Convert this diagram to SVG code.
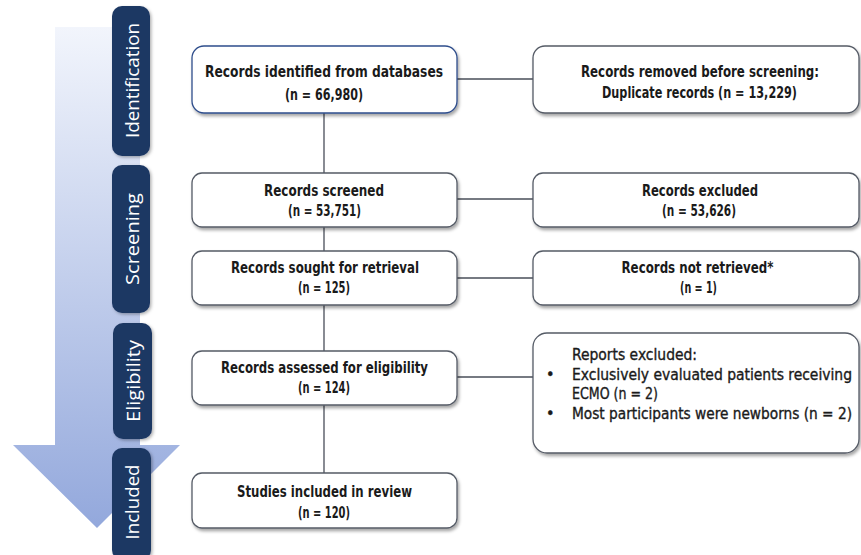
<svg xmlns="http://www.w3.org/2000/svg" width="861" height="555" viewBox="0 0 861 555">
<defs>
<linearGradient id="ag" x1="0" y1="0" x2="0" y2="1" gradientUnits="objectBoundingBox">
<stop offset="0" stop-color="#f2f5fc"/>
<stop offset="1" stop-color="#93a8dc"/>
</linearGradient>
<filter id="sh" x="-10%" y="-20%" width="120%" height="150%">
<feDropShadow dx="1.5" dy="2.5" stdDeviation="1.5" flood-color="#000" flood-opacity="0.35"/>
</filter>
<filter id="sh2" x="-30%" y="-10%" width="160%" height="120%">
<feDropShadow dx="1.5" dy="1.5" stdDeviation="1.5" flood-color="#000" flood-opacity="0.3"/>
</filter>
</defs>
<style>
.box{fill:#fff;stroke:#555b66;stroke-width:1.3;filter:url(#sh)}
.box1{stroke:#2f4e8c}
.t{font-family:"DejaVu Sans Condensed","DejaVu Sans",sans-serif;font-stretch:condensed;font-weight:bold;font-size:16px;fill:#1a1a1a;text-anchor:middle}
.tl{text-anchor:start;font-weight:normal;stroke:#1a1a1a;stroke-width:0.35}
.pill{fill:#1f3864;filter:url(#sh2)}
.pt{font-family:"Open Sans","DejaVu Sans",sans-serif;font-size:18.5px;fill:#fff;text-anchor:middle;dominant-baseline:central}
.ln{stroke:#4a4f5a;stroke-width:1.3;fill:none}
</style>
<rect width="861" height="555" fill="#fff"/>
<g id="stage-arrow">
<path d="M55,27 H140 V445 H180 L97,528 L13,445 H55 Z" fill="url(#ag)"/>
</g>
<g id="stage-identification">
<rect class="pill" x="112" y="6" width="38" height="150" rx="10"/>
<text class="pt" transform="translate(131,80.5) rotate(-90)" textLength="115" lengthAdjust="spacingAndGlyphs">Identification</text>
</g>
<g id="stage-screening">
<rect class="pill" x="112" y="165" width="38" height="148" rx="10"/>
<text class="pt" transform="translate(131,239) rotate(-90)" textLength="92" lengthAdjust="spacingAndGlyphs">Screening</text>
</g>
<g id="stage-eligibility">
<rect class="pill" x="113" y="323" width="39" height="116" rx="10"/>
<text class="pt" transform="translate(132.5,381) rotate(-90)" textLength="82" lengthAdjust="spacingAndGlyphs">Eligibility</text>
</g>
<g id="stage-included">
<rect class="pill" x="112" y="448" width="39" height="112" rx="10"/>
<text class="pt" transform="translate(131.5,502) rotate(-90)" textLength="75" lengthAdjust="spacingAndGlyphs">Included</text>
</g>
<g id="connectors">
<path class="ln" d="M324,113 V173 M324,227 V251 M324,305 V351 M324,405 V473"/>
<path class="ln" d="M457,79 H533 M457,199 H533 M457,278 H533 M457,377 H533"/>
</g>
<g id="identified">
<rect class="box box1" x="192" y="46" width="265" height="67" rx="12"/>
<text class="t" x="324" y="77" textLength="238" lengthAdjust="spacingAndGlyphs">Records identified from databases</text>
<text class="t" x="324" y="100" textLength="78" lengthAdjust="spacingAndGlyphs">(n = 66,980)</text>
</g>
<g id="removed">
<rect class="box" x="533" y="46" width="326" height="67" rx="12"/>
<text class="t" x="700" y="77" textLength="238" lengthAdjust="spacingAndGlyphs">Records removed before screening:</text>
<text class="t" x="699.5" y="98" textLength="195" lengthAdjust="spacingAndGlyphs">Duplicate records (n = 13,229)</text>
</g>
<g id="screened">
<rect class="box" x="192" y="173" width="265" height="54" rx="10"/>
<text class="t" x="324" y="196" textLength="120" lengthAdjust="spacingAndGlyphs">Records screened</text>
<text class="t" x="324.5" y="216" textLength="73" lengthAdjust="spacingAndGlyphs">(n = 53,751)</text>
</g>
<g id="excluded">
<rect class="box" x="533" y="173" width="326" height="54" rx="10"/>
<text class="t" x="700" y="196" textLength="116" lengthAdjust="spacingAndGlyphs">Records excluded</text>
<text class="t" x="699" y="216" textLength="74" lengthAdjust="spacingAndGlyphs">(n = 53,626)</text>
</g>
<g id="sought">
<rect class="box" x="192" y="251" width="265" height="54" rx="10"/>
<text class="t" x="325" y="273" textLength="188" lengthAdjust="spacingAndGlyphs">Records sought for retrieval</text>
<text class="t" x="324" y="293" textLength="52" lengthAdjust="spacingAndGlyphs">(n = 125)</text>
</g>
<g id="not-retrieved">
<rect class="box" x="533" y="251" width="326" height="54" rx="10"/>
<text class="t" x="697.5" y="273" textLength="152" lengthAdjust="spacingAndGlyphs">Records not retrieved*</text>
<text class="t" x="698.5" y="293" textLength="37" lengthAdjust="spacingAndGlyphs">(n = 1)</text>
</g>
<g id="assessed">
<rect class="box" x="192" y="351" width="265" height="54" rx="10"/>
<text class="t" x="324.5" y="373" textLength="207" lengthAdjust="spacingAndGlyphs">Records assessed for eligibility</text>
<text class="t" x="324" y="393" textLength="52" lengthAdjust="spacingAndGlyphs">(n = 124)</text>
</g>
<g id="reports-excluded">
<rect class="box" x="533" y="333" width="326" height="120" rx="14"/>
<text class="t tl" x="572" y="360" textLength="125" lengthAdjust="spacingAndGlyphs">Reports excluded:</text>
<text class="t tl" x="546" y="380">•</text>
<text class="t tl" x="572" y="380" textLength="280" lengthAdjust="spacingAndGlyphs">Exclusively evaluated patients receiving</text>
<text class="t tl" x="572" y="399" textLength="86" lengthAdjust="spacingAndGlyphs">ECMO (n = 2)</text>
<text class="t tl" x="546" y="419">•</text>
<text class="t tl" x="572" y="419" textLength="280" lengthAdjust="spacingAndGlyphs">Most participants were newborns (n = 2)</text>
</g>
<g id="included">
<rect class="box" x="192" y="473" width="265" height="55" rx="10"/>
<text class="t" x="324.5" y="497" textLength="175" lengthAdjust="spacingAndGlyphs">Studies included in review</text>
<text class="t" x="324" y="518" textLength="52" lengthAdjust="spacingAndGlyphs">(n = 120)</text>
</g>
</svg>
